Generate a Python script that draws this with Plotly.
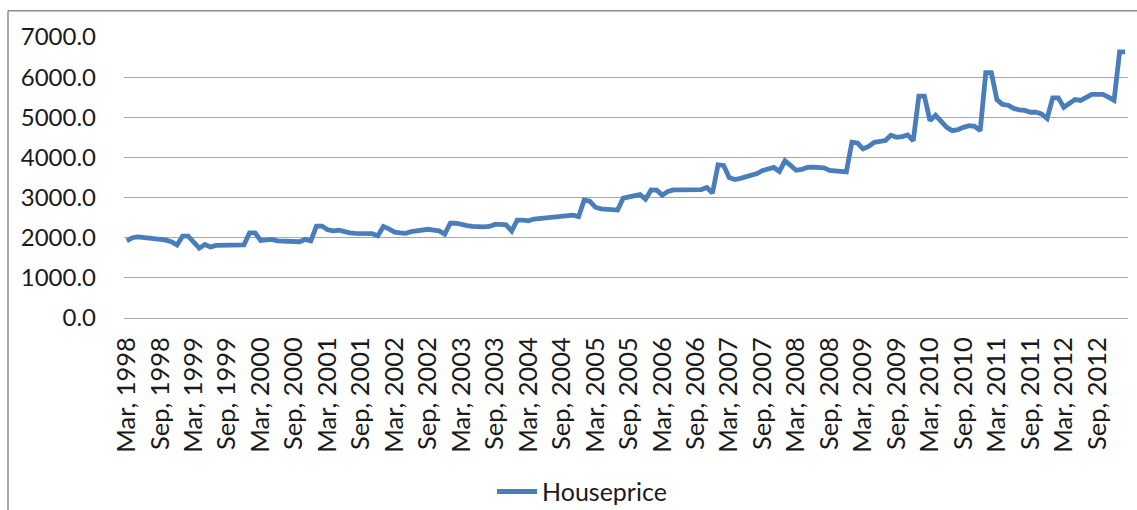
import plotly.graph_objects as go

# Monthly categories: Mar 1998 .. Feb 2013
month_names = ["Jan", "Feb", "Mar", "Apr", "May", "Jun", "Jul", "Aug", "Sep", "Oct", "Nov", "Dec"]
months = []
y, m = 1998, 2
for _ in range(180):
    months.append(f"{month_names[m]}, {y}")
    m += 1
    if m == 12:
        m = 0
        y += 1

houseprice = [
    1920, 2000, 2020, 2010, 1990, 1980, 1960, 1940, 1900, 1820,   # Mar98-Dec98
    2040, 2040, 1900, 1740, 1830, 1770, 1810, 1810, 1810, 1820, 1830, 1820,  # 1999
    2120, 2120, 1930, 1940, 1960, 1920, 1910, 1900, 1900, 1900, 1960, 1920,  # 2000
    2290, 2290, 2200, 2170, 2190, 2140, 2120, 2110, 2110, 2110, 2100, 2050,  # 2001
    2280, 2220, 2140, 2120, 2110, 2150, 2170, 2180, 2210, 2190, 2170, 2090,  # 2002
    2360, 2360, 2320, 2300, 2280, 2270, 2270, 2280, 2330, 2330, 2320, 2165,  # 2003
    2440, 2440, 2420, 2465, 2480, 2480, 2490, 2520, 2550, 2560, 2560, 2525,  # 2004
    2940, 2910, 2760, 2720, 2715, 2715, 2690, 2985, 3010, 3040, 3075, 2960,  # 2005
    3190, 3185, 3060, 3150, 3190, 3190, 3190, 3190, 3190, 3200, 3250, 3110,  # 2006
    3815, 3800, 3500, 3450, 3480, 3510, 3540, 3600, 3675, 3725, 3750, 3650,  # 2007
    3915, 3800, 3680, 3700, 3750, 3760, 3750, 3740, 3675, 3660, 3660, 3640,  # 2008
    4380, 4360, 4215, 4275, 4375, 4400, 4420, 4550, 4500, 4520, 4560, 4415,  # 2009
    5525, 5525, 4917, 5050, 4917, 4750, 4667, 4690, 4750, 4790, 4775, 4667,  # 2010
    6110, 6110, 5440, 5320, 5300, 5220, 5185, 5170, 5125, 5125, 5085, 4970,  # 2011
    5485, 5485, 5250, 5335, 5440, 5420, 5500, 5570, 5570, 5570, 5500, 5420,  # 2012
    6630, 6630,                                                              # Jan-Feb 2013
]

tick_labels = months[::6][:30]
y_ticks = [0, 1000, 2000, 3000, 4000, 5000, 6000, 7000]

SY = 523 / 510  # vertical compensation
W, H = 1137, 523
L, R = 124, 9
T = round(36 * SY)
PB = round(316 * SY)          # plot bottom in page px
B = H - PB
pw, ph = W - L - R, PB - T

def px_x(p):
    return (p - L) / pw

def px_y(p):
    return (PB - p * SY) / ph

FONT = "Lato"
TXT = "#1a1a1a"
GRID = "#a8a8a8"
BORDER = "#8c8c8c"

fig = go.Figure()
fig.add_trace(go.Scatter(
    x=months, y=houseprice, mode="lines", name="Houseprice",
    line=dict(color="#4a7ebb", width=4.8), showlegend=True,
))

fig.update_layout(
    width=W, height=H, autosize=False,
    margin=dict(l=L, r=R, t=T, b=B, pad=0),
    paper_bgcolor="white", plot_bgcolor="white",
    font=dict(family=FONT, size=24, color=TXT),
    legend=dict(
        orientation="h", x=px_x(492), y=px_y(489), xanchor="left", yanchor="middle",
        font=dict(family=FONT, size=25, color=TXT), bgcolor="rgba(0,0,0,0)",
        itemwidth=40,
    ),
    xaxis=dict(
        type="category", range=[-0.5, len(months) - 0.5],
        tickmode="array", tickvals=tick_labels, ticktext=tick_labels,
        tickangle=-90, showgrid=False, zeroline=False, showline=False,
        ticks="", ticklabelstandoff=13,
        tickfont=dict(family=FONT, size=25.5, color=TXT),
    ),
    yaxis=dict(
        range=[0, 7000], tickmode="array", tickvals=y_ticks, tickformat=".1f",
        showgrid=True, gridcolor=GRID, gridwidth=1.3,
        zeroline=True, zerolinecolor=GRID, zerolinewidth=1.3, showline=False,
        ticks="", ticklabelstandoff=27,
        tickfont=dict(family=FONT, size=24, color=TXT),
    ),
    shapes=[
        dict(type="line", xref="paper", yref="paper",
             x0=px_x(8), x1=px_x(1137), y0=px_y(10), y1=px_y(10),
             line=dict(color=BORDER, width=1.5), layer="below"),
        dict(type="line", xref="paper", yref="paper",
             x0=px_x(8), x1=px_x(8), y0=px_y(10), y1=px_y(515),
             line=dict(color=BORDER, width=1.5), layer="below"),
    ],
)

fig.write_html("out.html")
